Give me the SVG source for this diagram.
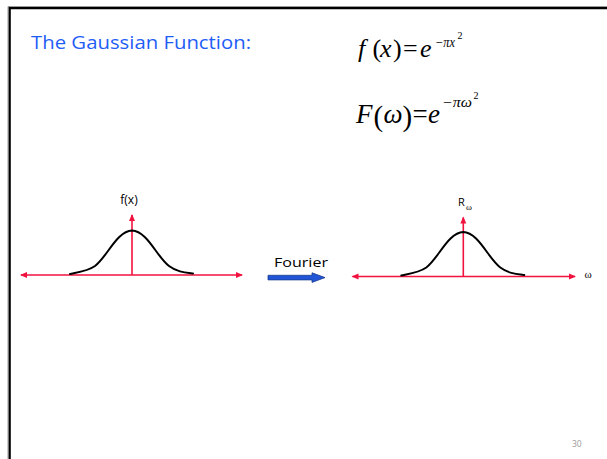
<svg xmlns="http://www.w3.org/2000/svg" width="607" height="459" viewBox="0 0 607 459">
<style>
.sans{font-family:"Open Sans","Liberation Sans",sans-serif;}
.math{font-family:"Liberation Serif","Times New Roman",serif;fill:#000;}
.it{font-style:italic;}
.axis{stroke:#F2123F;stroke-width:1.6;fill:none;}
.curve{stroke:#000;stroke-width:2;fill:none;stroke-linecap:round;}
</style>
<defs>
<marker id="ah" markerUnits="userSpaceOnUse" markerWidth="8" markerHeight="8" refX="6" refY="3.5" orient="auto-start-reverse">
<path d="M0,0.5 L7,3.5 L0,6.5 z" fill="#F2123F"/>
</marker>
</defs>
<rect width="607" height="459" fill="#fff"/>
<g id="border">
<path d="M8,459 V6.5 H607" fill="none" stroke="#9a9a9a" stroke-width="1"/>
<path d="M9.7,459 V8.1 H607" fill="none" stroke="#000" stroke-width="2.2"/>
</g>
<g id="title">
<text class="sans" x="31" y="49" font-size="19" fill="#1F5EF6" textLength="220" lengthAdjust="spacingAndGlyphs">The Gaussian Function:</text>
</g>
<g id="formula1">
<text class="math" font-size="26" y="56.5"><tspan class="it" x="358">f</tspan><tspan x="372.5">(</tspan><tspan class="it" x="380">x</tspan><tspan x="393">)</tspan><tspan x="403">=</tspan><tspan class="it" x="420">e</tspan></text>
<text class="math it" font-size="14" x="435" y="46.5" textLength="20" lengthAdjust="spacingAndGlyphs">−πx</text>
<text class="math" font-size="10" x="457.5" y="38.5">2</text>
</g>
<g id="formula2">
<text class="math" font-size="27" y="123"><tspan class="it" x="356">F</tspan><tspan x="373.5" y="125.5" font-size="29">(</tspan><tspan class="it" x="383.6" y="123">ω</tspan><tspan x="402.5" y="125.5" font-size="29">)</tspan><tspan x="412.5" y="123">=</tspan><tspan class="it" x="428">e</tspan></text>
<text class="math it" font-size="14" x="442" y="107" textLength="30" lengthAdjust="spacingAndGlyphs">−πω</text>
<text class="math" font-size="10" x="473.5" y="99">2</text>
</g>
<g id="connectors">
<line class="axis" x1="21" y1="275" x2="242" y2="275" marker-start="url(#ah)" marker-end="url(#ah)"/>
<line class="axis" x1="132" y1="275" x2="132" y2="215" marker-end="url(#ah)"/>
<line class="axis" x1="352.5" y1="276.5" x2="575" y2="276.5" marker-start="url(#ah)" marker-end="url(#ah)"/>
<line class="axis" x1="463.3" y1="276.5" x2="463.3" y2="217.5" marker-end="url(#ah)"/>
<path id="fourier-arrow" d="M268,275.3 H312 V272.8 L325,277.6 L312,282.4 V279.9 H268 Z" fill="#1F55D6" stroke="#1B3C8E" stroke-width="0.8"/>
</g>
<g id="gauss-left">
<path class="curve" d="M70,274 C80,272 88,271 95,266 C107,257 117,231 132,230.5 C147,231 157,257 169,266 C177,272 185,272.5 193,273.5"/>
</g>
<g id="gauss-right">
<path class="curve" transform="translate(331.3,1.5)" d="M70,274 C80,272 88,271 95,266 C107,257 117,231 132,230.5 C147,231 157,257 169,266 C177,272 185,272.5 193,273.5"/>
</g>
<g id="label-fx">
<text class="sans" x="129" y="204" font-size="12" text-anchor="middle" fill="#000">f(x)</text>
</g>
<g id="label-R">
<text class="sans" x="458" y="205.5" font-size="11" fill="#000">R</text>
<text class="math" x="466" y="210" font-size="9">ω</text>
</g>
<g id="label-fourier">
<text class="sans" x="274" y="266.5" font-size="12.5" fill="#000" textLength="54" lengthAdjust="spacingAndGlyphs">Fourier</text>
</g>
<g id="label-omega">
<text class="math" x="584.5" y="277.5" font-size="11">ω</text>
</g>
<g id="page-number">
<text class="sans" x="572" y="447" font-size="8.5" fill="#9a9a9a">30</text>
</g>
</svg>
